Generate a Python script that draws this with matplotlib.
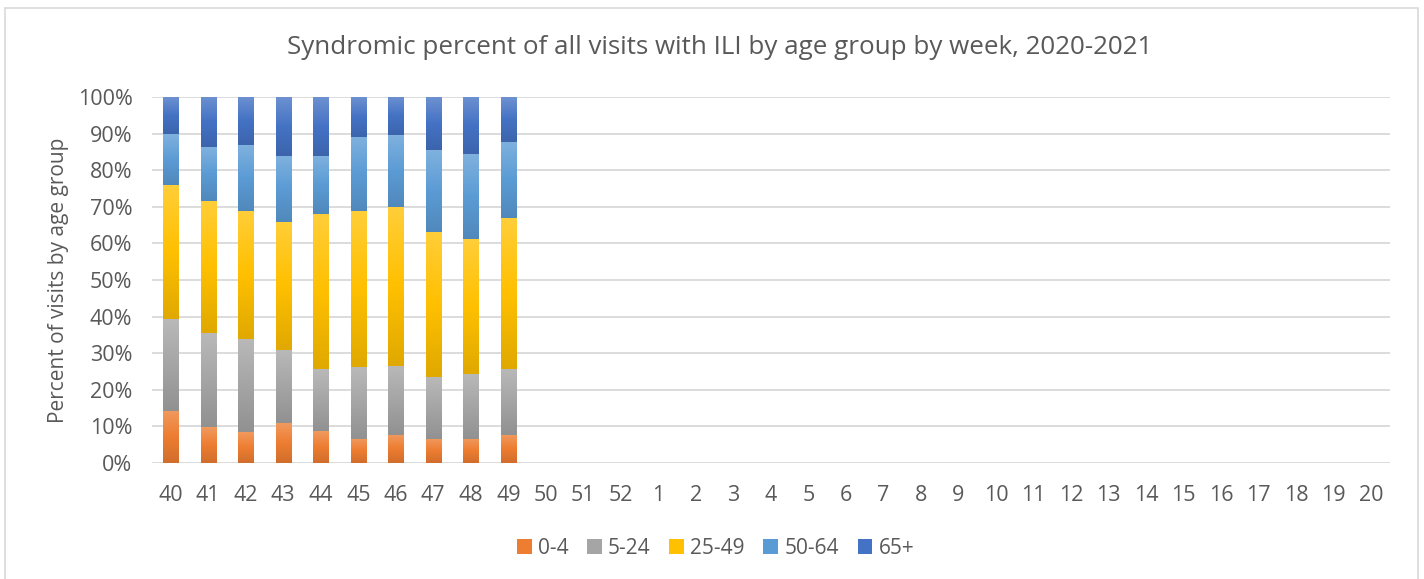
import matplotlib
matplotlib.use("Agg")
import matplotlib.pyplot as plt
import numpy as np
from matplotlib.colors import to_rgb
from matplotlib.patches import Rectangle

plt.rcParams["font.family"] = ["Open Sans", "DejaVu Sans"]

weeks = [str(w) for w in list(range(40, 53)) + list(range(1, 21))]
groups = ["0-4", "5-24", "25-49", "50-64", "65+"]

# percent of ILI visits per age group, weeks 40-49 (later weeks empty)
age_0_4   = [14.3, 9.8, 8.4, 10.8, 8.7, 6.6, 7.7, 6.6, 6.6, 7.7]
age_5_24  = [25.0, 25.6, 25.5, 20.0, 16.9, 19.6, 18.9, 16.8, 17.8, 18.1]
age_25_49 = [36.7, 36.3, 35.0, 35.0, 42.3, 42.7, 43.4, 39.6, 36.8, 41.1]
age_50_64 = [13.9, 14.5, 17.9, 18.2, 16.1, 20.3, 19.6, 22.4, 23.1, 20.9]
age_65p   = [10.1, 13.8, 13.2, 16.0, 16.0, 10.8, 10.4, 14.4, 15.7, 12.2]

colors = ["#ED7D31", "#A5A5A5", "#FFC000", "#5B9BD5", "#4472C4"]
GREY = "#595959"

series = [age_0_4, age_5_24, age_25_49, age_50_64, age_65p]
n = len(weeks)


def gradient(c):
    # excel-like vertical fill: lighter top, base colour, darker bottom
    c = np.array(to_rgb(c))
    top = c + (1 - c) * 0.22
    bot = c * 0.88
    t = np.linspace(0, 1, 64)[:, None]
    upper = top + (c - top) * np.clip(t / 0.5, 0, 1)
    lower = c + (bot - c) * np.clip((t - 0.5) / 0.5, 0, 1)
    col = np.where(t < 0.5, upper, lower)
    return col[:, None, :]


fig = plt.figure(figsize=(14.24, 5.79), dpi=100)
ax = fig.add_axes([0.1067, 0.2003, 0.8694, 0.6322])

x = np.arange(n)
bottom = np.zeros(n)
for name, vals, c in zip(groups, series, colors):
    v = np.zeros(n)
    v[:len(vals)] = vals
    bars = ax.bar(x, v, 0.41, bottom=bottom, color=c, label=name, zorder=3)
    g = gradient(c)
    for p in bars:
        if p.get_height() <= 0:
            continue
        x0, y0 = p.get_x(), p.get_y()
        ax.imshow(g, extent=(x0, x0 + p.get_width(), y0, y0 + p.get_height()),
                  aspect="auto", clip_path=p, zorder=3.5, interpolation="bilinear")
    bottom += v

ax.set_xlim(-0.5, n - 0.5)
ax.set_ylim(0, 100)
ax.set_yticks(range(0, 101, 10))
ax.set_yticklabels([f"{t}%" for t in range(0, 101, 10)])
ax.set_xticks(x)
ax.set_xticklabels(weeks)
ax.tick_params(axis="both", length=0, labelsize=15.5, labelcolor=GREY)
ax.tick_params(axis="x", pad=16)
ax.tick_params(axis="y", pad=14)
ax.grid(axis="y", color="#D9D9D9", lw=1.3, zorder=0)
for s in ax.spines.values():
    s.set_visible(False)

ax.set_ylabel("Percent of visits by age group", fontsize=15, color=GREY, labelpad=6)
fig.text(0.5055, 1 - 47 / 579, "Syndromic percent of all visits with ILI by age group by week, 2020-2021",
         fontsize=18.7, color=GREY, ha="center", va="center")

fig.legend(loc="center", bbox_to_anchor=(0.5025, 1 - 548 / 579), ncol=5, frameon=False,
           fontsize=15, handlelength=0.7, handleheight=0.7, handletextpad=0.3,
           columnspacing=0.9, labelcolor=GREY)

fig.patches.append(Rectangle((5 / 1424, -0.01), 1413 / 1424, 1 - 8 / 579 + 0.01,
                             transform=fig.transFigure, fill=False,
                             edgecolor="#D9D9D9", lw=1.2))

fig.savefig("out.png", dpi=100)
